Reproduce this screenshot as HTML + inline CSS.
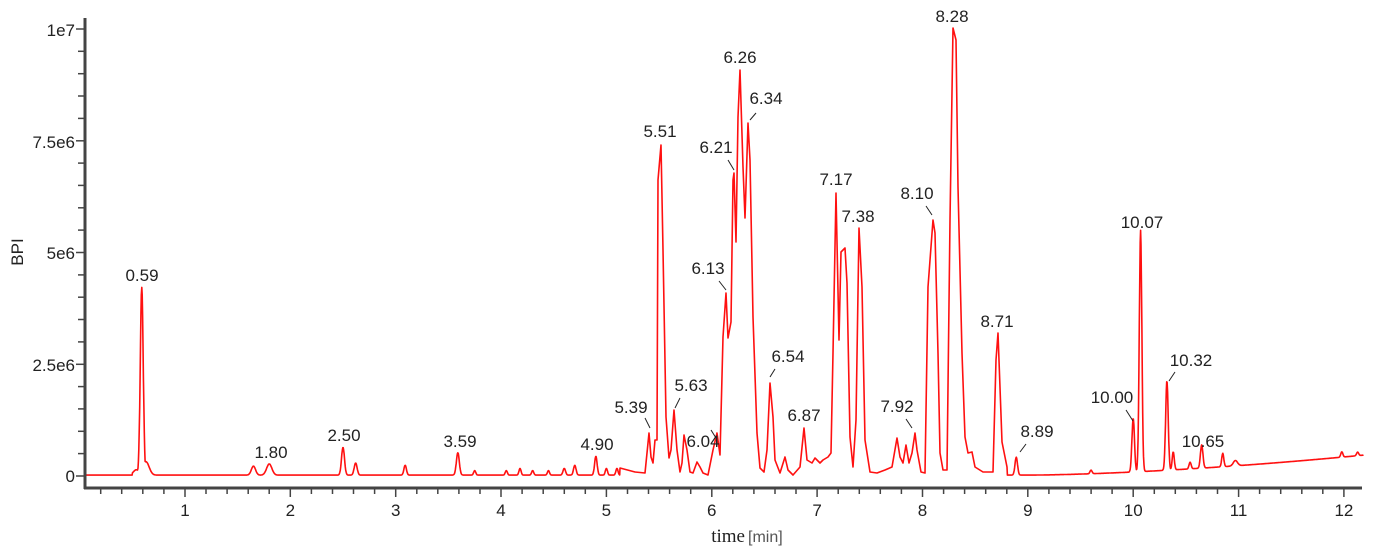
<!DOCTYPE html>
<html><head><meta charset="utf-8"><style>
html,body{margin:0;padding:0;background:#fff;width:1389px;height:550px;overflow:hidden}
svg text{font-family:"Liberation Sans",sans-serif;fill:#222}
</style></head><body>
<svg id="s" width="1389" height="550" xmlns="http://www.w3.org/2000/svg">
<g id="ticks" stroke="#444"></g>
<path id="line" fill="none" stroke="#ff1010" stroke-width="1.6" stroke-linejoin="round"/>
<line x1="85" y1="18" x2="85" y2="489" stroke="#444" stroke-width="3"/>
<line x1="84" y1="488" x2="1362" y2="488" stroke="#444" stroke-width="3"/>
<g font-size="17" text-anchor="end">
<text x="75" y="36">1e7</text><text x="75" y="148">7.5e6</text><text x="75" y="259">5e6</text><text x="75" y="371">2.5e6</text><text x="75" y="482">0</text>
</g>
<text transform="translate(23,252) rotate(-90)" font-size="17" text-anchor="middle">BPI</text>
<g id="xl" font-size="17" text-anchor="middle"></g>
<text x="745" y="542" font-size="19" text-anchor="end" style="font-family:'Liberation Serif',serif">time</text>
<text x="748" y="542" font-size="16" style="fill:#555">[min]</text>
<g id="pl" font-size="17" text-anchor="middle"></g>
<g stroke="#222" stroke-width="1">
<line x1="645" y1="418" x2="650" y2="428"/><line x1="680" y1="398" x2="675" y2="408"/>
<line x1="711" y1="430" x2="716" y2="438"/><line x1="719" y1="281" x2="726" y2="290"/>
<line x1="728" y1="160" x2="734" y2="170"/><line x1="756" y1="113" x2="750" y2="120"/>
<line x1="775" y1="369" x2="770" y2="377"/><line x1="906" y1="419" x2="912" y2="428"/>
<line x1="926" y1="206" x2="932" y2="215"/><line x1="1026" y1="444" x2="1020" y2="452"/>
<line x1="1126" y1="410" x2="1133" y2="421"/><line x1="1175" y1="372" x2="1169" y2="381"/>
</g>
</svg>
<script>
const X=t=>79.6+t*105.36, Y=v=>476-v*44.7;
const P=[[0.59,4.2,.014],[0.54,.12,.03],[0.63,.3,.03],[1.65,.2,.02],[1.8,.25,.025],[2.5,.62,.014],[2.62,.27,.014],[3.09,.22,.012],[3.59,.5,.014],[3.75,.1,.01],[4.05,.1,.01],[4.18,.15,.01],[4.3,.1,.01],[4.45,.1,.01],[4.6,.15,.012],[4.7,.22,.012],[4.9,.42,.012],[5.0,.15,.01],[5.1,.15,.01],[5.2,.1,.01],[8.89,.4,.012],[9.6,.08,.01],[10.0,1.2,.012],[10.07,5.4,.012],[10.32,2.0,.012],[10.38,.4,.01],[10.54,.15,.01],[10.65,.52,.012],[10.85,.3,.01],[10.97,.12,.02],[11.98,.12,.01],[12.13,.08,.01]];
function base(t){let b=.02;if(t>9)b+=Math.pow((t-9)/3.2,1.6)*.45;return b}
function val(t){let v=0;for(const[c,h,s]of P){const g=h*Math.exp(-((t-c)**2)/(2*s*s));if(g>v)v=g}v+=base(t);if(t<.5)v=.02;return v}
const M=[[620,468],[635,472],[645,473],[649,433],[651,457],[653,463],[655,440],[657,440],[658,180],[661,145],[663,250],[666,417],[669,458],[671,450],[674,410],[677,450],[680,472],[682,463],[684,435],[687,450],[690,472],[693,473],[697,462],[700,467],[703,473],[708,475],[713,450],[717,433],[720,455],[723,337],[726,293],[728,338],[731,322],[733,180],[734,173],[736,242],[738,117],[740,70],[743,167],[745,218],[748,123],[750,160],[753,317],[757,433],[760,468],[764,472],[767,450],[770,383],[773,417],[775,460],[780,473],[785,457],[788,470],[793,475],[800,467],[804,428],[807,460],[812,463],[815,458],[820,463],[823,460],[828,457],[831,453],[833,353],[836,193],[839,340],[841,252],[845,248],[847,283],[850,437],[853,467],[856,420],[859,228],[862,287],[865,440],[870,472],[877,473],[885,470],[892,467],[897,438],[900,457],[903,463],[906,445],[909,463],[912,453],[915,433],[917,450],[921,472],[925,473],[928,287],[933,220],[935,233],[938,353],[940,453],[943,470],[947,470],[950,220],[953,28],[956,40],[958,187],[962,353],[965,437],[968,453],[972,452],[975,467],[983,472],[993,472],[996,360],[998,333],[1002,442],[1007,467]];
let d="";const t1=(620-79.6)/105.36,t2=(1007-79.6)/105.36;
for(let t=0.05;t<t1;t+=.004){d+=(d?"L":"M")+X(t).toFixed(1)+" "+Y(val(t)).toFixed(1)}
for(const[x,y]of M)d+="L"+x+" "+y;
for(let t=t2+.004;t<=12.19;t+=.004){d+="L"+X(t).toFixed(1)+" "+Y(val(t)).toFixed(1)}
document.getElementById("line").setAttribute("d",d);
let s="";
for(let i=1;i<=61;i++){const t=i*.2;if(t>12.2)break;const x=X(t).toFixed(1);const maj=Math.abs(t-Math.round(t))<.01;s+=`<line x1="${x}" y1="488" x2="${x}" y2="${maj?497:494}" stroke-width="1.5"/>`}
for(let i=0;i<=20;i++){const y=Y(i*.5).toFixed(1);s+=`<line x1="${i%5?78:76}" y1="${y}" x2="85" y2="${y}" stroke-width="1.5"/>`}
document.getElementById("ticks").innerHTML=s;
let xl="";for(let i=1;i<=12;i++)xl+=`<text x="${X(i)}" y="516">${i}</text>`;document.getElementById("xl").innerHTML=xl;
const L=[["0.59",142,275],["1.80",271,452],["2.50",344,435],["3.59",460,441],["4.90",597,444],["5.39",631,407],["5.51",660,131],["5.63",691,385],["6.04",703,441],["6.13",708,268],["6.21",716,147],["6.26",740,57],["6.34",766,98],["6.54",788,356],["6.87",804,415],["7.17",836,179],["7.38",858,216],["7.92",897,406],["8.10",917,193],["8.28",952,16],["8.71",997,321],["8.89",1037,431],["10.00",1112,397],["10.07",1142,222],["10.32",1191,360],["10.65",1203,441]];
document.getElementById("pl").innerHTML=L.map(([t,x,y])=>`<text x="${x}" y="${y+6}">${t}</text>`).join("");
</script>
</body></html>
